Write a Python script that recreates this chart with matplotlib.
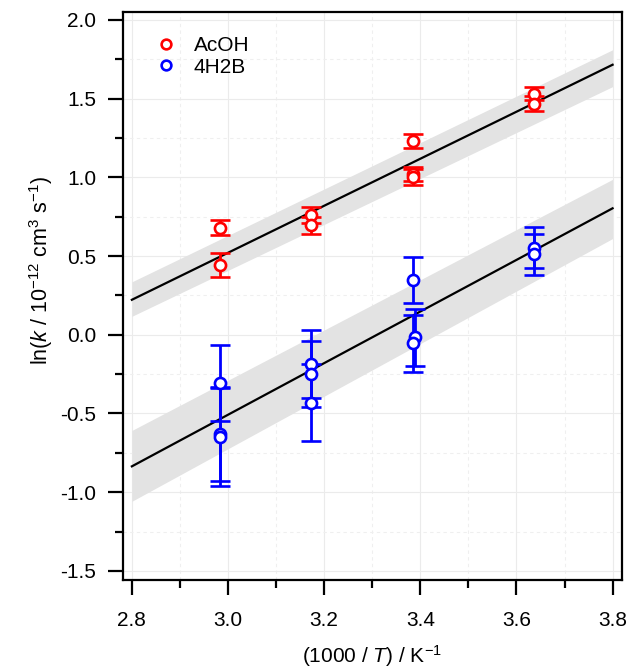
import matplotlib
matplotlib.use("Agg")
import matplotlib.pyplot as plt
from matplotlib.lines import Line2D

plt.rcParams['font.family'] = ['Liberation Sans', 'DejaVu Sans']
plt.rcParams['mathtext.fontset'] = 'custom'
plt.rcParams['mathtext.rm'] = 'Liberation Sans'
plt.rcParams['mathtext.it'] = 'Liberation Sans:italic'
plt.rcParams['axes.unicode_minus'] = False

# AcOH data
acoh_x = [2.984, 2.984, 3.173, 3.173, 3.384, 3.384, 3.384, 3.636, 3.636]
acoh_y = [0.681, 0.442, 0.759, 0.695, 1.229, 1.020, 1.000, 1.532, 1.468]
acoh_err = [0.050, 0.075, 0.050, 0.055, 0.045, 0.045, 0.050, 0.040, 0.050]

# 4H2B data
h2b_x = [2.984, 2.984, 2.984, 3.173, 3.173, 3.173, 3.384, 3.389, 3.384, 3.636, 3.636]
h2b_y = [-0.308, -0.629, -0.650, -0.186, -0.249, -0.433, 0.347, -0.017, -0.055, 0.554, 0.511]
h2b_err = [0.243, 0.300, 0.310, 0.215, 0.207, 0.245, 0.145, 0.180, 0.183, 0.130, 0.130]

# fits and bands (end points)
fit_x = [2.8, 3.8]
acoh_fit = [0.222, 1.715]
acoh_lo = [0.117, 1.576]
acoh_hi = [0.336, 1.810]
h2b_fit = [-0.836, 0.803]
h2b_lo = [-1.058, 0.611]
h2b_hi = [-0.608, 0.987]

fig = plt.figure(figsize=(6.31, 6.70), dpi=100)
ax = fig.add_axes([0.1945, 0.1343, 0.7908, 0.8478])

ax.fill_between(fit_x, acoh_lo, acoh_hi, color='#e3e3e3', lw=0, zorder=1)
ax.fill_between(fit_x, h2b_lo, h2b_hi, color='#e3e3e3', lw=0, zorder=1)
ax.plot(fit_x, acoh_fit, color='black', lw=1.6, zorder=2)
ax.plot(fit_x, h2b_fit, color='black', lw=1.6, zorder=2)

for x, y, e, c in [(acoh_x, acoh_y, acoh_err, 'red'), (h2b_x, h2b_y, h2b_err, 'blue')]:
    ax.errorbar(x, y, yerr=e, fmt='o', color=c, mfc='white', mec=c, ms=8, mew=1.9,
                elinewidth=2.0, capsize=7.5, capthick=2.0, zorder=3)

handles = [Line2D([], [], ls='none', marker='o', mfc='white', mec='red', ms=7, mew=1.9),
           Line2D([], [], ls='none', marker='o', mfc='white', mec='blue', ms=7, mew=1.9)]
ax.legend(handles, ['AcOH', '4H2B'], loc='upper left', bbox_to_anchor=(0.025, 0.99),
          frameon=False, fontsize=15, handlelength=1.2, handletextpad=0.7, labelspacing=0.1)

ax.set_xlim(2.781, 3.819)
ax.set_ylim(-1.558, 2.05)
ax.set_xticks([2.8, 3.0, 3.2, 3.4, 3.6, 3.8])
ax.set_xticks([2.9, 3.1, 3.3, 3.5, 3.7], minor=True)
ax.set_yticks([-1.5, -1.0, -0.5, 0.0, 0.5, 1.0, 1.5, 2.0])
ax.set_yticks([-1.25, -0.75, -0.25, 0.25, 0.75, 1.25, 1.75], minor=True)
ax.set_xticklabels(['2.8', '3.0', '3.2', '3.4', '3.6', '3.8'])
ax.set_yticklabels(['-1.5', '-1.0', '-0.5', '0.0', '0.5', '1.0', '1.5', '2.0'])

ax.set_axisbelow(True)
ax.grid(True, which='major', color='#ebebeb', lw=0.8)
ax.grid(True, which='minor', color='#efefef', lw=0.8, ls=(0, (3, 3)))

for s in ax.spines.values():
    s.set_linewidth(1.6)
ax.tick_params(which='major', direction='out', length=11, width=1.6, labelsize=15, pad=8)
ax.tick_params(axis='x', which='major', pad=11)
ax.tick_params(which='minor', direction='out', length=6, width=1.6)

ax.set_xlabel(r'(1000 / $T$) / K$^{-1}$', fontsize=15, labelpad=10)
ax.set_ylabel(r'ln($k$ / 10$^{-12}$ cm$^{3}$ s$^{-1}$)', fontsize=15.5)
ax.yaxis.set_label_coords(-0.135, 0.545)

fig.savefig('out.png', dpi=100)
